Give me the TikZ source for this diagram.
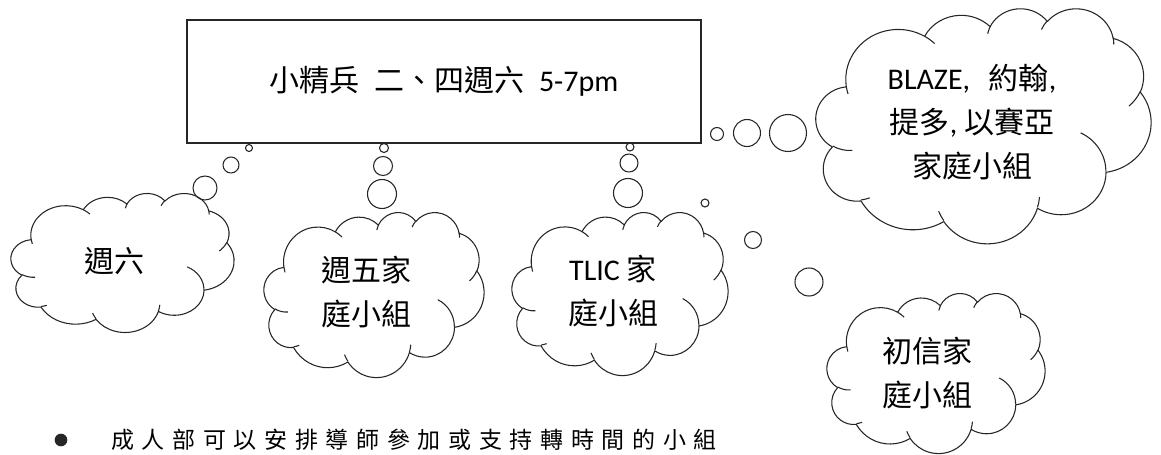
\documentclass[tikz,border=0pt]{standalone}
\usepackage{fontspec}
\setmainfont{Carlito}
\newfontfamily\cjk{Noto Sans CJK TC}
\newcommand\sq[1]{\makebox[23pt][c]{#1}}
% one arc of the Word cloud shape: wR hR (path units/100), start and sweep angle (deg, visual, y down)
\newcommand\wcA[4]{%
  \pgfextra{%
    \pgfmathparse{atan2(#1*sin(#3),#2*cos(#3))}\global\let\wcta\pgfmathresult
    \pgfmathparse{atan2(#1*sin(#3+#4),#2*cos(#3+#4))}\global\let\wctb\pgfmathresult
    \pgfmathparse{-mod(\wctb-\wcta+720,360)}\global\let\wcda\pgfmathresult
    \pgfmathparse{-\wcta}\global\let\wcna\pgfmathresult
    \pgfmathparse{#1*\wcsx}\global\let\wcrx\pgfmathresult
    \pgfmathparse{#2*\wcsy}\global\let\wcry\pgfmathresult
  }%
  arc[start angle=\wcna, delta angle=\wcda, x radius=\wcrx, y radius=\wcry]%
}
\newcommand\wcI[6]{({\wcL+#1*\wcsx},{-\wcT-#2*\wcsy}) \wcA{#3}{#4}{#5}{#6}}
\newcommand\wordcloud[4]{%
  \pgfmathsetmacro\wcL{#1}\pgfmathsetmacro\wcT{#2}%
  \pgfmathsetmacro\wcsx{#3/432}\pgfmathsetmacro\wcsy{#4/432}%
  \draw[cloudline] ({\wcL+39.00*\wcsx},{-\wcT-143.70*\wcsy})
    \wcA{67.53}{91.90}{-190.4875}{123.7805}
    \wcA{53.33}{72.67}{-144.1024}{89.9452}
    \wcA{43.65}{59.45}{-145.8079}{99.7230}
    \wcA{48.57}{65.95}{-130.9861}{117.2417}
    \wcA{53.33}{72.73}{-78.7089}{109.0269}
    \wcA{67.75}{92.20}{-46.2673}{130.2690}
    \wcA{57.85}{78.67}{0.6250}{114.0333}
    \wcA{67.52}{92.15}{22.4516}{115.1726}
    \wcA{77.20}{105.43}{66.2426}{75.7110}
    \wcA{43.60}{59.18}{-274.9421}{146.7356}
    \wcA{43.45}{59.45}{-246.8285}{152.5189}
    -- cycle;
  \draw[cloudline]
    \wcI{46.93}{261.77}{43.45}{59.45}{86.7420}{26.4295}
    \wcI{69.28}{348.99}{43.60}{59.18}{73.6105}{11.4475}
    \wcI{164.78}{390.90}{67.52}{92.15}{137.6242}{14.0811}
    \wcI{288.27}{347.51}{67.52}{92.15}{6.4533}{15.9984}
    \wcI{341.29}{229.54}{57.85}{78.67}{-70.2924}{70.9174}
    \wcI{417.98}{153.54}{53.33}{72.73}{30.3180}{27.7515}
    \wcI{383.24}{54.26}{48.57}{65.95}{-13.7443}{14.8589}
    \wcI{290.78}{39.52}{48.57}{65.95}{-149.1815}{18.1954}
    \wcI{221.41}{47.20}{43.65}{59.45}{-163.4943}{17.6864}
    \wcI{140.00}{51.92}{67.53}{91.90}{-66.7070}{12.3194}
    \wcI{41.27}{157.89}{67.53}{91.90}{157.6544}{11.8582};
}
\tikzset{
  cloudline/.style={draw=black!85, line width=0.8pt, line join=round},
  bub/.style={draw=black!85, line width=0.8pt},
  lbl/.style={font=\fontsize{22.5pt}{33pt}\selectfont, align=center, inner sep=0pt},
}
\begin{document}
\begin{tikzpicture}[x=0.75pt, y=0.75pt]
\useasboundingbox (0,0) rectangle (1161,-454);
\fill[white] (0,0) rectangle (1161,-454);

% top box
\node[draw=black!85, line width=0.8pt, minimum width=385.5pt, minimum height=92.25pt,
      inner sep=0pt, font=\fontsize{22.5pt}{27pt}\selectfont] (box) at (444,-81.5)
  {{\cjk 小精兵}\hspace{11pt}{\cjk 二、四週六}\hspace{11pt}5-7pm};

% clouds
\wordcloud{11}{193}{223}{139}
\wordcloud{264}{212}{220}{165}
\wordcloud{512}{212}{216}{163}
\wordcloud{816}{8}{335}{235}
\wordcloud{827}{293}{218}{160}

\node[lbl] (sat) at (114,-261) {\cjk 週六};
\node[lbl] (fri) at (366,-292) {\cjk 週五家\\\cjk 庭小組};
\node[lbl] (tlic) at (613,-291) {TLIC {\cjk 家}\\\cjk 庭小組};
\node[lbl] (blaze) at (972,-122) {BLAZE,\hspace{14pt}{\cjk 約翰},\\{\cjk 提多}, {\cjk 以賽亞}\\\cjk 家庭小組};
\node[lbl] (new) at (927,-373.5) {\cjk 初信家\\\cjk 庭小組};

% thought bubbles
\draw[bub] (249,-148) circle (3.5) (231,-165) circle (8) (205,-188) circle (12);
\draw[bub] (384,-148) circle (4.5) (383,-166) circle (9.5) (382,-194) circle (14.5);
\draw[bub] (630,-147) circle (4) (629,-163) circle (9) (628,-193) circle (14.5);
\draw[bub] (717,-134) circle (6.5) (747,-133) circle (13.5) (788,-133) circle (18.5);
\draw[bub] (705,-203) circle (4) (753,-240) circle (8.5) (809,-282) circle (14);

% bullet note
\node[circle, fill=black!85, minimum size=9.5pt, inner sep=0pt] (dot) at (61,-440) {};
\node[anchor=west, inner sep=0pt, font=\cjk\fontsize{17.25pt}{20pt}\selectfont] (note) at (107,-440)
  {\sq{成}\sq{人}\sq{部}\sq{可}\sq{以}\sq{安}\sq{排}\sq{導}\sq{師}\sq{參}\sq{加}\sq{或}\sq{支}\sq{持}\sq{轉}\sq{時}\sq{間}\sq{的}\sq{小}\sq{組}};
\end{tikzpicture}
\end{document}
